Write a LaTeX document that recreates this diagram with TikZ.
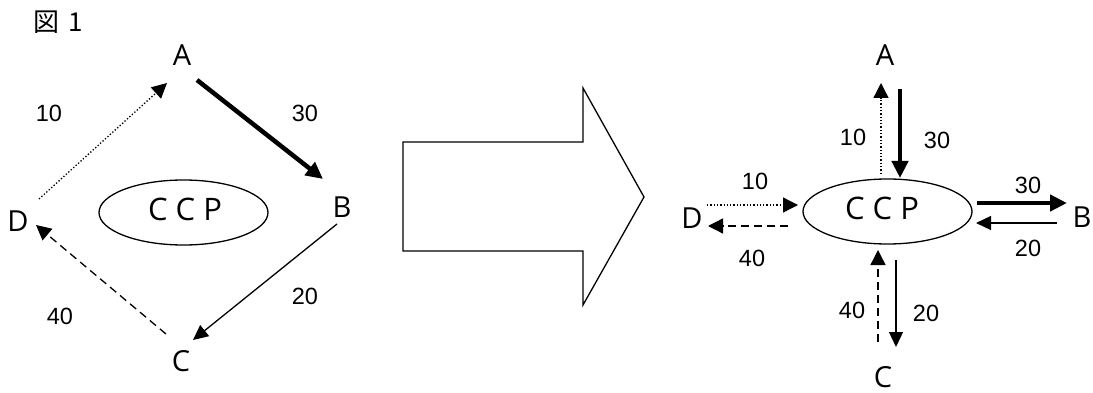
\documentclass[tikz,border=0pt]{standalone}
\usepackage{fontspec}
\setmainfont{Open Sans}
\newfontfamily\numfont{Liberation Sans}
\newfontfamily\cjkfont{Noto Sans CJK JP}
\usetikzlibrary{arrows.meta,shapes.geometric}
\begin{document}
\begin{tikzpicture}[x=1pt,y=-1pt,
  lett/.style={font=\fontsize{29}{29}\selectfont, inner sep=0pt},
  num/.style={font=\numfont\fontsize{23.5}{23.5}\selectfont, inner sep=0pt},
  ccp/.style={draw, line width=1.3pt, ellipse, minimum width=169pt, minimum height=65pt, inner sep=0pt},
  ccptext/.style={font=\fontsize{31}{31}\selectfont, inner sep=0pt},
  thin/.style={line width=1.3pt, -{Triangle[length=15pt,width=14pt]}},
  thick/.style={line width=4.5pt, -{Triangle[length=17pt,width=16pt]}},
  dotline/.style={line width=1.3pt, dash pattern=on 1.3pt off 2pt, -{Triangle[length=15pt,width=15pt]}},
  dashline/.style={line width=1.3pt, dash pattern=on 8pt off 5pt, -{Triangle[length=15pt,width=15pt]}}
]
\useasboundingbox (0,0) rectangle (1093,393);

% title
\node[font=\cjkfont\fontsize{26}{26}\selectfont, inner sep=0pt] (title) at (58,22) {図\,\,1};

% ---------- left diagram ----------
\node[lett] (A) at (182,55) {A};
\node[lett] (B) at (342,207) {B};
\node[lett] (C) at (181,361) {C};
\node[lett] (D) at (18,221) {D};
\node[ccp] (E1) at (183.5,212.5) {};
\node[ccptext] (E1t) at (185,209) {C C P};

\coordinate (a1) at (197,80);  \coordinate (b1) at (323,179);
\coordinate (b2) at (337,224); \coordinate (c1) at (193,340);
\coordinate (c2) at (166,334); \coordinate (d1) at (36,225);
\coordinate (d2) at (39,199);  \coordinate (a2) at (167,83);
\draw[thick] (a1) -- (b1);
\draw[thin] (b2) -- (c1);
\draw[dashline] (c2) -- (d1);
\draw[dotline] (d2) -- (a2);

\node[num] (l10) at (49,113) {10};
\node[num] (l30) at (305,113) {30};
\node[num] (l20) at (305,296) {20};
\node[num] (l40) at (60,316) {40};

% ---------- big arrow ----------
\draw[line width=1.3pt, line join=miter] (403,142) -- (583,142) -- (583,88) -- (644,197) -- (583,305) -- (583,251) -- (403,251) -- cycle;

% ---------- right diagram ----------
\node[ccp] (E2) at (887.5,211.5) {};
\node[ccptext] (E2t) at (882,208) {C C P};
\node[lett] (A2) at (885,55) {A};
\node[lett] (B2) at (1082,217) {B};
\node[lett] (C2) at (883,377) {C};
\node[lett] (D2) at (692,218) {D};

% A side
\coordinate (ra1) at (881,174); \coordinate (ra2) at (881,83);
\coordinate (ra3) at (900,89);  \coordinate (ra4) at (900,178);
\draw[dotline] (ra1) -- (ra2);
\draw[thick] (ra3) -- (ra4);
\node[num] (r10a) at (853,137) {10};
\node[num] (r30a) at (937,140) {30};

% D side
\coordinate (rd1) at (707,205); \coordinate (rd2) at (798,205);
\coordinate (rd3) at (788,226); \coordinate (rd4) at (708,226);
\draw[dotline] (rd1) -- (rd2);
\draw[dashline] (rd3) -- (rd4);
\node[num] (r10d) at (755,181) {10};
\node[num] (r40d) at (752,258) {40};

% B side
\coordinate (rb1) at (977,203); \coordinate (rb2) at (1067,203);
\coordinate (rb3) at (1057,223); \coordinate (rb4) at (976,223);
\draw[thick] (rb1) -- (rb2);
\draw[thin] (rb3) -- (rb4);
\node[num] (r30b) at (1028,185) {30};
\node[num] (r20b) at (1028,248) {20};

% C side
\coordinate (rc1) at (878,342); \coordinate (rc2) at (878,250);
\coordinate (rc3) at (896,260); \coordinate (rc4) at (896,347);
\draw[dashline] (rc1) -- (rc2);
\draw[thin] (rc3) -- (rc4);
\node[num] (r40c) at (852,310) {40};
\node[num] (r20c) at (926,313) {20};
\end{tikzpicture}
\end{document}
